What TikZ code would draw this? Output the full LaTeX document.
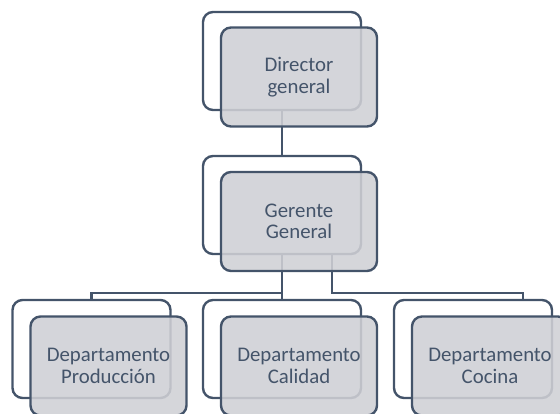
\documentclass[tikz,border=0pt]{standalone}
\usepackage{fontspec}
\setmainfont{Carlito}
\definecolor{slate}{HTML}{44546A}
\definecolor{boxfill}{RGB}{207,208,213}
\begin{document}
\begin{tikzpicture}[x=1pt,y=-1pt,
  backbox/.style={draw=slate, line width=2.4pt, rounded corners=10pt, fill=white,
    minimum width=158pt, minimum height=98pt, inner sep=0pt, outer sep=0pt},
  frontbox/.style={draw=slate, line width=2.4pt, rounded corners=10pt, fill=boxfill, fill opacity=0.88,
    text opacity=1, text=slate, align=center, font=\fontsize{20.8}{21.5}\selectfont,
    minimum width=156pt, minimum height=99pt, inner sep=0pt, outer sep=0pt},
  link/.style={draw=slate, line width=2.2pt}]
\useasboundingbox (0,0) rectangle (560,414);
% back boxes
\node[backbox] (db) at (282,61) {};
\node[backbox] (gb) at (282,205) {};
\node[backbox] (pb) at (91.5,349) {};
\node[backbox] (cb) at (282,349) {};
\node[backbox] (kb) at (473,349) {};
% connectors
\coordinate (bus) at (0,293);
\coordinate (gs2) at ([xshift=50pt]gb.south);
\coordinate (ks2) at ([xshift=50pt]kb.north);
\draw[link] (db.south) -- (gb.north);
\draw[link] (gb.south) -- (gb.south |- bus) -| (pb.north);
\draw[link] (gb.south) -- (cb.north);
\draw[link] (gs2) -- (gs2 |- bus) -| (ks2);
% front boxes
\node[frontbox] (d) at (299,77) {Director\\general};
\node[frontbox] (g) at (299,221.5) {Gerente\\General};
\node[frontbox] (p) at (108.5,366) {Departamento\\Producción};
\node[frontbox] (c) at (299,366) {Departamento\\Calidad};
\node[frontbox] (k) at (490,366) {Departamento\\Cocina};
\end{tikzpicture}
\end{document}
